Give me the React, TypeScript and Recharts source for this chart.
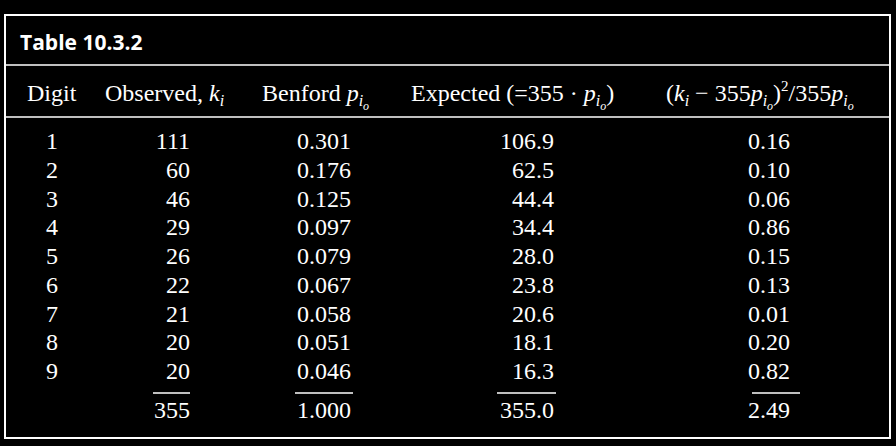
import React from 'react';
import { Surface } from 'recharts';

const digits = ['1', '2', '3', '4', '5', '6', '7', '8', '9'];
const observed = ['111', '60', '46', '29', '26', '22', '21', '20', '20'];
const benford = ['0.301', '0.176', '0.125', '0.097', '0.079', '0.067', '0.058', '0.051', '0.046'];
const expected = ['106.9', '62.5', '44.4', '34.4', '28.0', '23.8', '20.6', '18.1', '16.3'];
const chiTerms = ['0.16', '0.10', '0.06', '0.86', '0.15', '0.13', '0.01', '0.20', '0.82'];
const totals = ['355', '1.000', '355.0', '2.49'];

const serif = '"Liberation Serif", "DejaVu Serif", serif';
const fs = 24;

// p with subscript i and sub-subscript o; `after` is drawn back on the baseline
const Pio = ({ after }: { after?: string }) => (
  <>
    <tspan fontStyle="italic">p</tspan>
    <tspan fontStyle="italic" fontSize={16} dy={5}>i</tspan>
    <tspan fontStyle="italic" fontSize={12} dy={4}>o</tspan>
    {after !== undefined && <tspan dy={-9}>{after}</tspan>}
  </>
);

export default function App() {
  const rowY = (i: number) => 149 + i * 28.75;
  return (
    <div style={{ position: 'fixed', left: 0, top: 0, width: 896, height: 446, background: '#000' }}>
      <Surface width={896} height={446}>
        <rect x={5} y={15} width={885} height={423} fill="none" stroke="#fff" strokeWidth={2} />
        <line x1={5} x2={890} y1={65} y2={65} stroke="#fff" strokeWidth={1.5} />
        <line x1={5} x2={890} y1={117} y2={117} stroke="#fff" strokeWidth={1.5} />
        <text x={20} y={50} fill="#fff" fontFamily='"Open Sans", sans-serif' fontWeight="bold" fontSize={21}>
          Table 10.3.2
        </text>
        <g fill="#fff" fontFamily={serif} fontSize={fs}>
          <text x={27} y={101}>Digit</text>
          <text x={105} y={101}>Observed, <tspan fontStyle="italic">k</tspan><tspan fontStyle="italic" fontSize={16} dy={5}>i</tspan></text>
          <text x={262} y={101}>Benford <Pio /></text>
          <text x={411} y={101}>Expected (=355 · <Pio after=")" /></text>
          <text x={666} y={101}>
            (<tspan fontStyle="italic">k</tspan><tspan fontStyle="italic" fontSize={16} dy={5}>i</tspan>
            <tspan dy={-5}> − 355</tspan><Pio after=")" /><tspan fontSize={15} dy={-10}>2</tspan><tspan dy={10}>/355</tspan><Pio />
          </text>
          {digits.map((d, i) => (
            <g key={d}>
              <text x={52} y={rowY(i)} textAnchor="middle">{d}</text>
              <text x={190} y={rowY(i)} textAnchor="end">{observed[i]}</text>
              <text x={324} y={rowY(i)} textAnchor="middle">{benford[i]}</text>
              <text x={554} y={rowY(i)} textAnchor="end">{expected[i]}</text>
              <text x={769} y={rowY(i)} textAnchor="middle">{chiTerms[i]}</text>
            </g>
          ))}
          <text x={190} y={418} textAnchor="end">{totals[0]}</text>
          <text x={324} y={418} textAnchor="middle">{totals[1]}</text>
          <text x={554} y={418} textAnchor="end">{totals[2]}</text>
          <text x={769} y={418} textAnchor="middle">{totals[3]}</text>
        </g>
        <g stroke="#fff" strokeWidth={1.5}>
          <line x1={153} x2={190} y1={393} y2={393} />
          <line x1={295} x2={353} y1={393} y2={393} />
          <line x1={497} x2={556} y1={393} y2={393} />
          <line x1={752} x2={800} y1={393} y2={393} />
        </g>
      </Surface>
    </div>
  );
}
